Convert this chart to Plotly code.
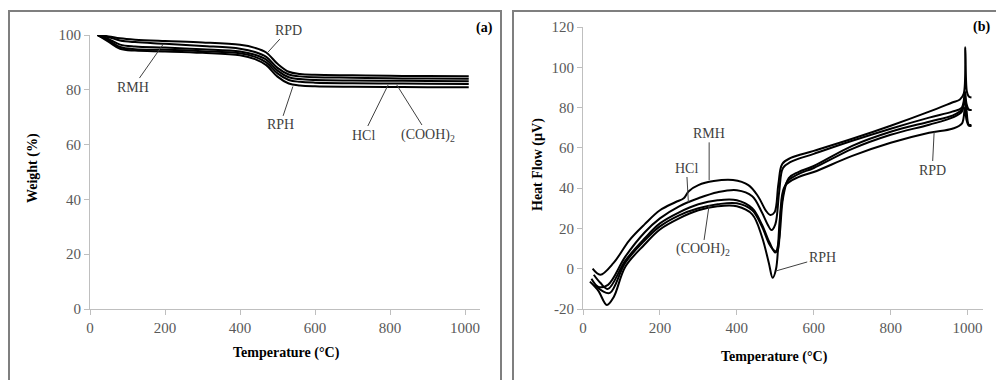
import plotly.graph_objects as go

# ---------------- Panel (a): TGA weight curves ----------------
temp_a = [20, 50, 80, 120, 200, 300, 400, 440, 470, 500, 530, 560, 600, 700, 800, 900, 1010]
weight_rpd = [100, 99.5, 98.8, 98.3, 97.8, 97.3, 96.4, 95.3, 93.6, 89.5, 86.6, 85.8, 85.5, 85.3, 85.1, 85.0, 84.9]
weight_rmh = [100, 99.2, 98.0, 97.4, 96.8, 96.0, 95.0, 93.8, 92.0, 88.0, 85.6, 84.9, 84.6, 84.4, 84.2, 84.1, 84.0]
weight_hcl = [100, 98.5, 96.5, 95.8, 95.4, 94.8, 94.0, 92.8, 91.0, 87.0, 84.6, 83.9, 83.6, 83.4, 83.3, 83.2, 83.1]
weight_cooh = [100, 98.0, 95.6, 94.8, 94.6, 94.1, 93.3, 92.0, 90.0, 86.0, 83.6, 82.9, 82.6, 82.4, 82.3, 82.2, 82.1]
weight_rph = [100, 97.5, 95.0, 94.3, 94.0, 93.5, 92.6, 91.2, 89.0, 84.8, 82.3, 81.6, 81.3, 81.1, 81.0, 80.95, 80.9]

# ---------------- Panel (b): DTA heat-flow curves ----------------
temp_b1 = [25, 45, 80, 120, 160, 200, 240, 262, 275, 300, 340, 390, 430, 455, 475, 487, 498, 508, 518, 540, 600, 700, 800, 900, 960, 980, 990, 994, 998, 1003, 1010]
hf_b1 = [0, -3, 3, 14, 22, 29, 33, 35, 38.5, 41.5, 43.5, 44, 41.5, 36, 29, 26.7, 28, 42, 52, 55, 58.5, 64.5, 71, 78, 82.5, 84, 87, 110, 88, 85.5, 85]

temp_b2 = [22, 40, 65, 110, 160, 200, 250, 300, 350, 400, 440, 465, 480, 490, 500, 510, 520, 540, 600, 700, 800, 900, 960, 985, 993, 997, 1003, 1010]
hf_b2 = [-5, -9, -8, 6, 18, 25, 31, 35, 38, 39, 36, 28, 22, 19.2, 22, 38, 50, 53, 57, 63.5, 69.5, 75, 78, 80, 88, 82, 79, 78.8]

temp_b3 = [28, 45, 65, 110, 160, 200, 250, 300, 350, 400, 440, 465, 485, 500, 510, 520, 535, 560, 600, 700, 800, 900, 960, 985, 993, 997, 1003, 1010]
hf_b3 = [-3, -7, -10, 4, 15, 22.5, 28, 32, 34, 34, 30, 22, 13, 8, 15, 35, 45, 48, 51, 61, 68, 73, 76, 79, 85, 80, 79, 78.8]

temp_b4 = [30, 50, 70, 110, 160, 200, 250, 300, 350, 400, 440, 465, 485, 497, 505, 515, 530, 560, 600, 700, 800, 900, 960, 985, 993, 997, 1003, 1010]
hf_b4 = [-8, -11, -12, 3, 14, 21, 26.5, 30, 32, 32.5, 29, 21, 12, 9, 8.5, 30, 43, 47, 50, 59.5, 66.5, 71.5, 75, 78, 84, 79, 71.5, 71.4]

temp_b5 = [18, 40, 62, 80, 110, 160, 200, 250, 300, 350, 400, 440, 465, 483, 493, 502, 512, 525, 560, 600, 700, 800, 900, 960, 985, 993, 997, 1003, 1010]
hf_b5 = [-6.4, -11, -18, -14, 1, 12, 19.5, 25, 29, 31, 31, 27, 16, 3, -4.5, 0, 25, 41, 45.5, 48, 56, 62.5, 67.5, 69.5, 72, 80, 74, 71, 71]

# tick values and labels
x_ticks = [0, 200, 400, 600, 800, 1000]
ya_ticks = [0, 20, 40, 60, 80, 100]
yb_ticks = [-20, 0, 20, 40, 60, 80, 100, 120]
yb_labels = ["-20", "0", "20", "40", "60", "80", "100", "120"]

W, H = 996, 380
SERIF = "Liberation Serif, Times New Roman, serif"
LINE = dict(color="black", width=2)

fig = go.Figure()
for y in [weight_rpd, weight_rmh, weight_hcl, weight_cooh, weight_rph]:
    fig.add_trace(go.Scatter(x=temp_a, y=y, mode="lines", line=LINE, line_shape="spline",
                             xaxis="x", yaxis="y", showlegend=False, hoverinfo="skip"))
for t, y in [(temp_b1, hf_b1), (temp_b2, hf_b2), (temp_b3, hf_b3), (temp_b4, hf_b4), (temp_b5, hf_b5)]:
    fig.add_trace(go.Scatter(x=t, y=y, mode="lines", line=LINE, line_shape="spline",
                             xaxis="x2", yaxis="y2", showlegend=False, hoverinfo="skip"))

def px(xp):
    return xp / W

def py(yp):
    return (H - yp) / H

axis_common = dict(showline=True, linecolor="#bfbfbf", linewidth=1, ticks="outside", ticklen=5,
                   tickcolor="#bfbfbf", showgrid=False, zeroline=False,
                   tickfont=dict(family=SERIF, size=15, color="#595959"), automargin=False)

fig.update_layout(
    width=W, height=H, margin=dict(l=0, r=0, t=0, b=0),
    paper_bgcolor="white", plot_bgcolor="white",
    xaxis=dict(domain=[px(90), px(480)], range=[0, 1040], tickvals=x_ticks, anchor="y", **axis_common),
    yaxis=dict(domain=[py(309), py(35)], range=[0, 100], tickvals=ya_ticks, anchor="x", **axis_common),
    xaxis2=dict(domain=[px(583), px(983)], range=[0, 1040], tickvals=x_ticks, anchor="y2", **axis_common),
    yaxis2=dict(domain=[py(309), py(27)], range=[-20, 120], tickvals=yb_ticks, ticktext=yb_labels,
                anchor="x2", **axis_common),
)

# panel borders
fig.add_shape(type="rect", xref="paper", yref="paper", x0=px(9), x1=px(501), y0=-0.2, y1=py(11),
              line=dict(color="#7f7f7f", width=2), fillcolor="rgba(0,0,0,0)")
fig.add_shape(type="rect", xref="paper", yref="paper", x0=px(513), x1=1.2, y0=-0.2, y1=py(11),
              line=dict(color="#7f7f7f", width=2), fillcolor="rgba(0,0,0,0)")

title_font = dict(family=SERIF, size=14, color="black")
label_font = dict(family=SERIF, size=14, color="#404040")

def text(xp, yp, s, font, angle=0):
    fig.add_annotation(xref="paper", yref="paper", x=px(xp), y=py(yp), text=s, showarrow=False,
                       font=font, textangle=angle, xanchor="center", yanchor="middle")

text(286, 353, "<b>Temperature (°C)</b>", title_font)
text(774, 357, "<b>Temperature (°C)</b>", title_font)
text(33, 168, "<b>Weight (%)</b>", title_font, -90)
text(538, 165, "<b>Heat Flow (µV)</b>", title_font, -90)
text(484, 28, "<b>(a)</b>", title_font)
text(981, 27, "<b>(b)</b>", title_font)

def leader(xr, yr, tx, ty, ax, ay, s):
    fig.add_annotation(xref=xr, yref=yr, axref=xr, ayref=yr, x=tx, y=ty, ax=ax, ay=ay, text=s,
                       showarrow=True, arrowhead=0, arrowwidth=1, arrowcolor="#404040",
                       font=label_font, standoff=0, startstandoff=0)

# panel (a) labels
leader("x", "y", 475, 93.8, 528, 101.8, "RPD")
leader("x", "y", 195, 96.6, 115, 81.0, "RMH")
leader("x", "y", 541, 81.2, 507, 67.2, "RPH")
leader("x", "y", 795, 81.8, 729, 63.5, "HCl")
leader("x", "y", 818, 81.8, 902, 63.5, "(COOH)<sub>2</sub>")

# panel (b) labels
leader("x2", "y2", 274, 33, 269, 50, "HCl")
leader("x2", "y2", 328, 44, 328, 67.2, "RMH")
leader("x2", "y2", 328, 31.6, 311, 9.3, "(COOH)<sub>2</sub>")
leader("x2", "y2", 502, -1.1, 622, 5.5, "RPH")
leader("x2", "y2", 913, 68, 908, 49, "RPD")

fig.write_html("out.html", config={"displayModeBar": False},
               post_script="document.body.style.margin='0';document.body.style.overflow='hidden';")
